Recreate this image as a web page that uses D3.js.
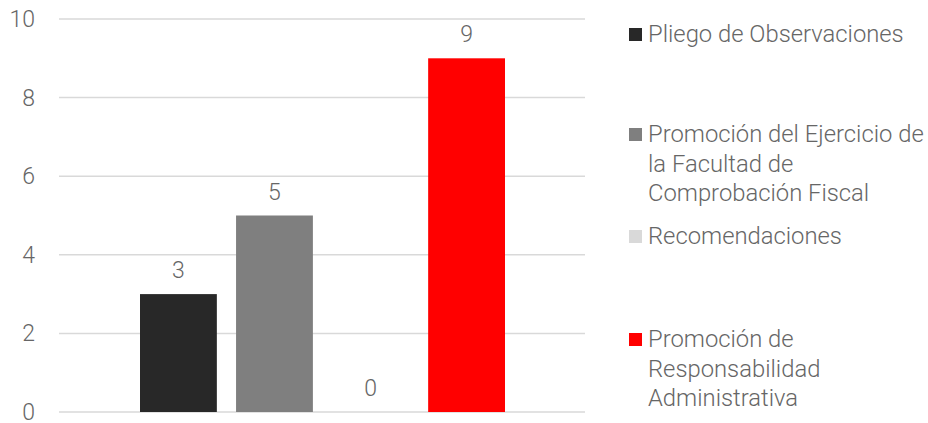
<!DOCTYPE html>
<html><head><meta charset="utf-8">
<script src="https://cdn.jsdelivr.net/npm/d3@7"></script>
<style>
html,body{margin:0;padding:0;background:#fff;}
svg{display:block;font-family:Roboto, "Noto Sans", sans-serif;font-weight:300;}
</style></head>
<body><svg id="c" width="928" height="423"></svg>
<script>
const categories = ["Pliego de Observaciones","Promoción del Ejercicio de la Facultad de Comprobación Fiscal","Recomendaciones","Promoción de Responsabilidad Administrativa"];
const values = [3, 5, 0, 9];
const colors = ["#282828", "#7f7f7f", "#d9d9d9", "#ff0000"];
const legendLines = [["Pliego de Observaciones"],["Promoción del Ejercicio de","la Facultad de","Comprobación Fiscal"],["Recomendaciones"],["Promoción de","Responsabilidad","Administrativa"]];
const yTicks = [0, 2, 4, 6, 8, 10];

const svg = d3.select("#c");
const y = d3.scaleLinear().domain([0, 10]).range([412, 19]);
const x = d3.scaleBand().domain(categories).range([140, 505]).paddingInner(0.2);

// gridlines
svg.append("g").selectAll("line").data(yTicks).join("line")
  .attr("x1", 59).attr("x2", 585)
  .attr("y1", d => y(d)).attr("y2", d => y(d))
  .attr("stroke", "#d9d9d9").attr("stroke-width", 1.5);

// y axis labels
const yAxis = d3.axisLeft(y).tickValues(yTicks).tickSize(0).tickPadding(0);
const ga = svg.append("g").attr("transform", "translate(35,0)").call(yAxis);
ga.select(".domain").remove();
ga.selectAll("text").attr("font-size", 23).attr("fill", "#666").attr("font-family", "Roboto").attr("font-weight", 300).attr("dy", "0.33em");

// bars
svg.append("g").selectAll("rect").data(values).join("rect")
  .attr("x", (d, i) => x(categories[i]))
  .attr("width", x.bandwidth())
  .attr("y", d => y(d))
  .attr("height", d => y(0) - y(d))
  .attr("fill", (d, i) => colors[i]);

// value labels
svg.append("g").selectAll("text").data(values).join("text")
  .attr("x", (d, i) => x(categories[i]) + x.bandwidth() / 2)
  .attr("y", d => y(d) - 16)
  .attr("text-anchor", "middle")
  .attr("font-size", 23).attr("fill", "#666")
  .text(d => d);

// legend
const rowBase = [42, 142, 244, 347];
const lg = svg.append("g");
legendLines.forEach((lines, i) => {
  lg.append("rect").attr("x", 629).attr("y", rowBase[i] - 14).attr("width", 13).attr("height", 13).attr("fill", colors[i]);
  const t = lg.append("text").attr("x", 648).attr("y", rowBase[i]).attr("font-size", 23.8).attr("fill", "#666");
  lines.forEach((l, j) => {
    t.append("tspan").attr("x", 648).attr("y", rowBase[i] + j * 29.5).text(l);
  });
});
</script></body></html>
